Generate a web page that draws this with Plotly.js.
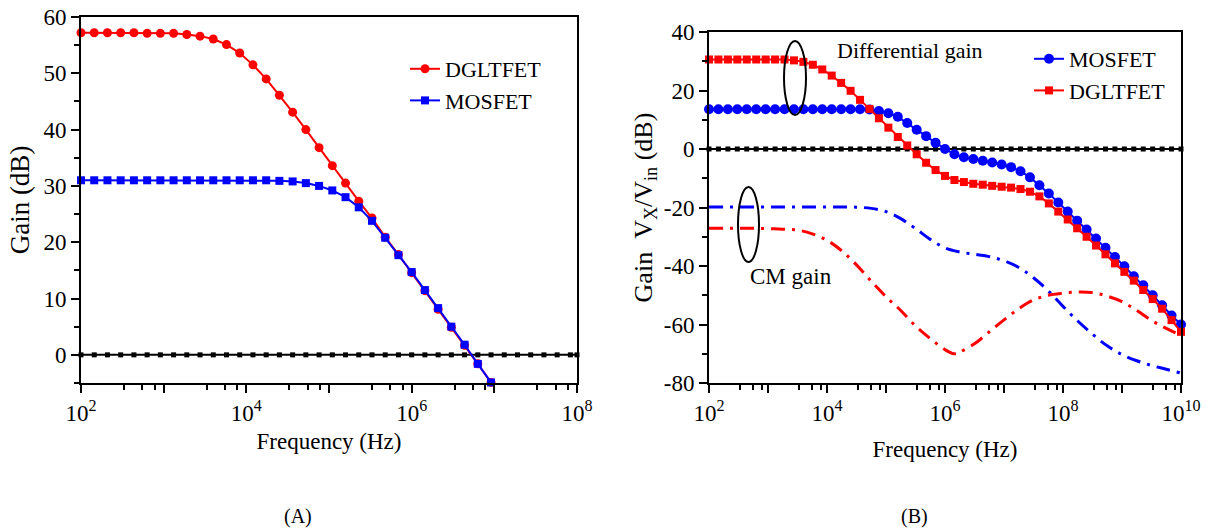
<!DOCTYPE html>
<html><head><meta charset="utf-8">
<script src="https://cdn.plot.ly/plotly-3.0.1.min.js"></script>
<style>html,body{margin:0;padding:0;background:#fff}#chart{width:1209px;height:532px}</style>
</head><body><div id="chart"></div>
<script>
// Frequency grid (Hz) used by the marker curves (about 0.16 decade apart)
const freqGrid = [100, 144.5, 208.9, 302.0, 436.5, 631.0, 912.0, 1318, 1905, 2754,
  3981, 5754, 8318, 12023, 17378, 25119, 36308, 52481, 75858, 109648,
  158489, 229087, 331131, 478630, 691831, 1e6, 1.4454e6, 2.0893e6, 3.02e6, 4.3652e6,
  6.3096e6, 9.1201e6, 1.3183e7, 1.9055e7, 2.7542e7, 3.9811e7, 5.7544e7, 8.3176e7, 1.2023e8, 1.7378e8,
  2.5119e8, 3.6308e8, 5.2481e8, 7.5858e8, 1.0965e9, 1.5849e9, 2.2909e9, 3.3113e9, 4.7863e9, 6.9183e9, 1e10];

// Panel (A): gain (dB)
const gainA_DGLTFET = [57.2, 57.2, 57.2, 57.2, 57.2, 57.1, 57.1, 57.1, 56.9, 56.6,
  56.1, 55.1, 53.6, 51.5, 49.0, 46.1, 43.1, 40.0, 36.8, 33.6,
  30.5, 27.3, 24.3, 20.9, 17.8, 14.6, 11.4, 8.1, 4.9, 1.7, -1.6, -4.9];
const gainA_MOSFET = [31.0, 31.0, 31.0, 31.0, 31.0, 31.0, 31.0, 31.0, 31.0, 31.0,
  31.0, 31.0, 31.0, 31.0, 31.0, 30.9, 30.8, 30.5, 30.0, 29.2,
  28.0, 26.2, 23.8, 20.8, 17.7, 14.7, 11.5, 8.3, 5.0, 1.8, -1.6, -4.9];

// Panel (B): differential gain (dB)
const diffB_MOSFET = [13.6, 13.6, 13.6, 13.6, 13.6, 13.6, 13.6, 13.6, 13.6, 13.6,
  13.6, 13.6, 13.6, 13.6, 13.6, 13.6, 13.6, 13.5, 13.0, 12.2,
  11.0, 8.9, 6.6, 4.4, 2.1, 0.0, -1.8, -2.8, -3.4, -4.0,
  -4.6, -5.3, -6.2, -7.6, -9.7, -12.4, -15.2, -18.3, -21.4, -24.5,
  -27.5, -30.6, -33.8, -36.9, -40.1, -43.5, -46.6, -50.0, -53.4, -56.9, -60.0];
const diffB_DGLTFET = [30.6, 30.6, 30.6, 30.6, 30.6, 30.6, 30.6, 30.6, 30.6, 30.3,
  29.8, 28.8, 27.2, 25.1, 22.6, 19.9, 16.8, 13.7, 10.5, 7.3,
  4.1, 1.2, -1.8, -4.7, -7.2, -9.2, -10.6, -11.3, -11.9, -12.2,
  -12.6, -12.9, -13.2, -13.7, -14.6, -16.2, -18.6, -21.4, -24.1, -27.1,
  -30.0, -33.0, -36.0, -39.1, -42.0, -45.0, -48.2, -51.3, -54.6, -58.5, -62.5];

// Panel (B): common-mode gain (dB), quarter-decade readings
const cmFreqMOSFET = [100, 177.8, 316.2, 562.3, 1e3, 1778, 3162, 5623, 1e4, 17783,
  31623, 56234, 1e5, 177828, 316228, 562341, 1e6, 1.778e6, 3.162e6, 5.623e6,
  1e7, 1.778e7, 3.162e7, 5.623e7, 1e8, 1.778e8, 3.162e8, 5.623e8, 1e9, 1.778e9,
  3.162e9, 5.623e9, 1e10];
const cmB_MOSFET = [-19.8, -19.8, -19.8, -19.8, -19.8, -19.8, -19.8, -19.8, -19.8, -19.8,
  -19.9, -20.3, -21.4, -23.8, -27.2, -30.9, -33.8, -35.2, -36.0, -36.8,
  -38.2, -40.5, -44.0, -48.5, -53.8, -58.8, -63.3, -67.3, -70.3, -72.4,
  -74.0, -75.3, -76.6];
const cmFreqDGLTFET = [100, 177.8, 316.2, 562.3, 1e3, 1778, 3162, 5623, 1e4, 17783,
  31623, 56234, 1e5, 177828, 316228, 562341, 1e6, 1.413e6, 1.778e6, 3.162e6, 5.623e6,
  1e7, 1.778e7, 3.162e7, 5.623e7, 1e8, 1.778e8, 3.162e8, 5.623e8, 1e9, 1.778e9,
  3.162e9, 5.623e9, 1e10];
const cmB_DGLTFET = [-27.1, -27.1, -27.1, -27.1, -27.2, -27.4, -27.7, -29.0, -31.2, -34.8,
  -39.6, -45.2, -50.5, -55.2, -60.5, -64.8, -68.6, -70.0, -69.4, -66.6, -62.5,
  -58.4, -54.6, -51.6, -50.0, -49.3, -48.9, -49.1, -50.3, -52.2, -55.2,
  -58.6, -61.3, -63.7];

// 0 dB reference level
const zeroLevel = 0;
const zeroFreqA = freqGrid.slice(0, 38).concat([1e8]);
const zeroFreqB = freqGrid;

// Tick labels
const xTickValsA = [1e2, 1e3, 1e4, 1e5, 1e6, 1e7, 1e8];
const xTickTextA = ['10<sup>2</sup>', '', '10<sup>4</sup>', '', '10<sup>6</sup>', '', '10<sup>8</sup>'];
const xTickValsB = [1e2, 1e3, 1e4, 1e5, 1e6, 1e7, 1e8, 1e9, 1e10];
const xTickTextB = ['10<sup>2</sup>', '', '10<sup>4</sup>', '', '10<sup>6</sup>', '', '10<sup>8</sup>', '', '10<sup>10</sup>'];
const yTickValsA = [0, 10, 20, 30, 40, 50, 60];
const yTickTextA = ['0', '10', '20', '30', '40', '50', '60'];
const yTickValsB = [40, 20, 0, -20, -40, -60, -80];
const yTickTextB = ['40', '20', '0', '-20', '-40', '-60', '-80'];
const minorFactors = [3.3, 5.5, 7.8];

const W = 1209, H = 532;
const px = v => v / W, py = v => 1 - v / H;
const FONT = '"Liberation Serif", "Times New Roman", serif';
const RED = '#ff0000', BLUE = '#0000ff';
const FS = 23;

function minorVals(lo, hi) {
  const out = [];
  for (let e = lo; e < hi; e++) minorFactors.forEach(f => out.push(f * Math.pow(10, e)));
  return out;
}

const traces = [
  {x: zeroFreqA, y: zeroFreqA.map(() => zeroLevel), xaxis: 'x', yaxis: 'y', mode: 'lines+markers',
   line: {color: '#000', width: 2}, marker: {symbol: 'square', size: 5, color: '#000'}, showlegend: false, cliponaxis: false},
  {x: freqGrid.slice(0, 32), y: gainA_DGLTFET, name: 'DGLTFET', xaxis: 'x', yaxis: 'y', mode: 'lines+markers',
   line: {color: RED, width: 2}, marker: {symbol: 'circle', size: 9, color: RED}, legend: 'legend', cliponaxis: false},
  {x: freqGrid.slice(0, 32), y: gainA_MOSFET, name: 'MOSFET', xaxis: 'x', yaxis: 'y', mode: 'lines+markers',
   line: {color: BLUE, width: 2}, marker: {symbol: 'square', size: 8, color: BLUE}, legend: 'legend', cliponaxis: false},

  {x: zeroFreqB, y: zeroFreqB.map(() => zeroLevel), xaxis: 'x2', yaxis: 'y2', mode: 'lines+markers',
   line: {color: '#000', width: 2}, marker: {symbol: 'square', size: 5, color: '#000'}, showlegend: false, cliponaxis: false},
  {x: cmFreqMOSFET, y: cmB_MOSFET, xaxis: 'x2', yaxis: 'y2', mode: 'lines', line: {color: BLUE, width: 3, dash: '14px,7px,3px,7px', shape: 'spline'}, showlegend: false},
  {x: cmFreqDGLTFET, y: cmB_DGLTFET, xaxis: 'x2', yaxis: 'y2', mode: 'lines', line: {color: RED, width: 3, dash: '14px,7px,3px,7px', shape: 'spline'}, showlegend: false},
  {x: freqGrid, y: diffB_MOSFET, name: 'MOSFET', xaxis: 'x2', yaxis: 'y2', mode: 'lines+markers',
   line: {color: BLUE, width: 2}, marker: {symbol: 'circle', size: 10, color: BLUE}, legend: 'legend2', cliponaxis: false},
  {x: freqGrid, y: diffB_DGLTFET, name: 'DGLTFET', xaxis: 'x2', yaxis: 'y2', mode: 'lines+markers',
   line: {color: RED, width: 2}, marker: {symbol: 'square', size: 8, color: RED}, legend: 'legend2', cliponaxis: false}
];

const axisCommon = {
  showline: true, linecolor: '#000', linewidth: 2, mirror: true, ticks: 'outside', ticklen: 8, tickwidth: 2,
  tickcolor: '#000', showgrid: false, zeroline: false, automargin: false,
  tickfont: {family: FONT, size: FS, color: '#000'}
};

const layout = {
  width: W, height: H, margin: {l: 0, r: 0, t: 0, b: 0}, paper_bgcolor: '#fff', plot_bgcolor: '#fff',
  font: {family: FONT, color: '#000'},
  xaxis: Object.assign({}, axisCommon, {
    type: 'log', domain: [px(81), px(577)], range: [2, 8], anchor: 'y',
    tickmode: 'array', tickvals: xTickValsA, ticktext: xTickTextA,
    minor: {tickmode: 'array', tickvals: minorVals(2, 8), ticks: 'outside', ticklen: 5, tickwidth: 2, tickcolor: '#000'},
    title: {text: 'Frequency (Hz)', font: {family: FONT, size: FS, color: '#000'}, standoff: 8}
  }),
  yaxis: Object.assign({}, axisCommon, {
    domain: [py(383), py(17)], range: [-5, 60], anchor: 'x',
    tickmode: 'array', tickvals: yTickValsA, ticktext: yTickTextA,
    minor: {dtick: 5, tick0: 0, ticks: 'outside', ticklen: 5, tickwidth: 2, tickcolor: '#000'},
    title: {text: 'Gain (dB)', font: {family: FONT, size: 27, color: '#000'}, standoff: 6}
  }),
  xaxis2: Object.assign({}, axisCommon, {
    type: 'log', domain: [px(709), px(1181)], range: [2, 10], anchor: 'y2',
    tickmode: 'array', tickvals: xTickValsB, ticktext: xTickTextB,
    minor: {tickmode: 'array', tickvals: minorVals(2, 10), ticks: 'outside', ticklen: 5, tickwidth: 2, tickcolor: '#000'},
    title: {text: 'Frequency (Hz)', font: {family: FONT, size: FS, color: '#000'}, standoff: 16}
  }),
  yaxis2: Object.assign({}, axisCommon, {
    domain: [py(383), py(32)], range: [-80, 40], anchor: 'x2',
    tickmode: 'array', tickvals: yTickValsB, ticktext: yTickTextB,
    minor: {dtick: 10, tick0: 0, ticks: 'outside', ticklen: 5, tickwidth: 2, tickcolor: '#000'},
    title: {text: 'Gain&nbsp;&nbsp;V<sub>X</sub>/V<sub>in</sub> (dB)', font: {family: FONT, size: 26, color: '#000'}, standoff: 4}
  }),
  legend: {x: px(405), y: py(48), xanchor: 'left', yanchor: 'top', bgcolor: 'rgba(0,0,0,0)',
    font: {family: FONT, size: 22, color: '#000'}, tracegroupgap: 0},
  legend2: {x: px(1029), y: py(38), xanchor: 'left', yanchor: 'top', bgcolor: 'rgba(0,0,0,0)',
    font: {family: FONT, size: 22, color: '#000'}, tracegroupgap: 0},
  annotations: [
    {text: 'Differential gain', xref: 'paper', yref: 'paper', x: px(910), y: py(51), showarrow: false,
     font: {family: FONT, size: 22, color: '#000'}, xanchor: 'center', yanchor: 'middle'},
    {text: 'CM gain', xref: 'paper', yref: 'paper', x: px(791), y: py(276), showarrow: false,
     font: {family: FONT, size: 23, color: '#000'}, xanchor: 'center', yanchor: 'middle'},
    {text: '(A)', xref: 'paper', yref: 'paper', x: px(298), y: py(516), showarrow: false,
     font: {family: FONT, size: 20, color: '#000'}, xanchor: 'center', yanchor: 'middle'},
    {text: '(B)', xref: 'paper', yref: 'paper', x: px(914), y: py(516), showarrow: false,
     font: {family: FONT, size: 20, color: '#000'}, xanchor: 'center', yanchor: 'middle'}
  ],
  shapes: [
    {type: 'circle', xref: 'paper', yref: 'paper', x0: px(784), x1: px(806), y0: py(115), y1: py(41),
     line: {color: '#000', width: 2}},
    {type: 'circle', xref: 'paper', yref: 'paper', x0: px(738), x1: px(759), y0: py(262), y1: py(187),
     line: {color: '#000', width: 2}}
  ]
};

Plotly.newPlot('chart', traces, layout, {staticPlot: true, displayModeBar: false});
</script></body></html>
